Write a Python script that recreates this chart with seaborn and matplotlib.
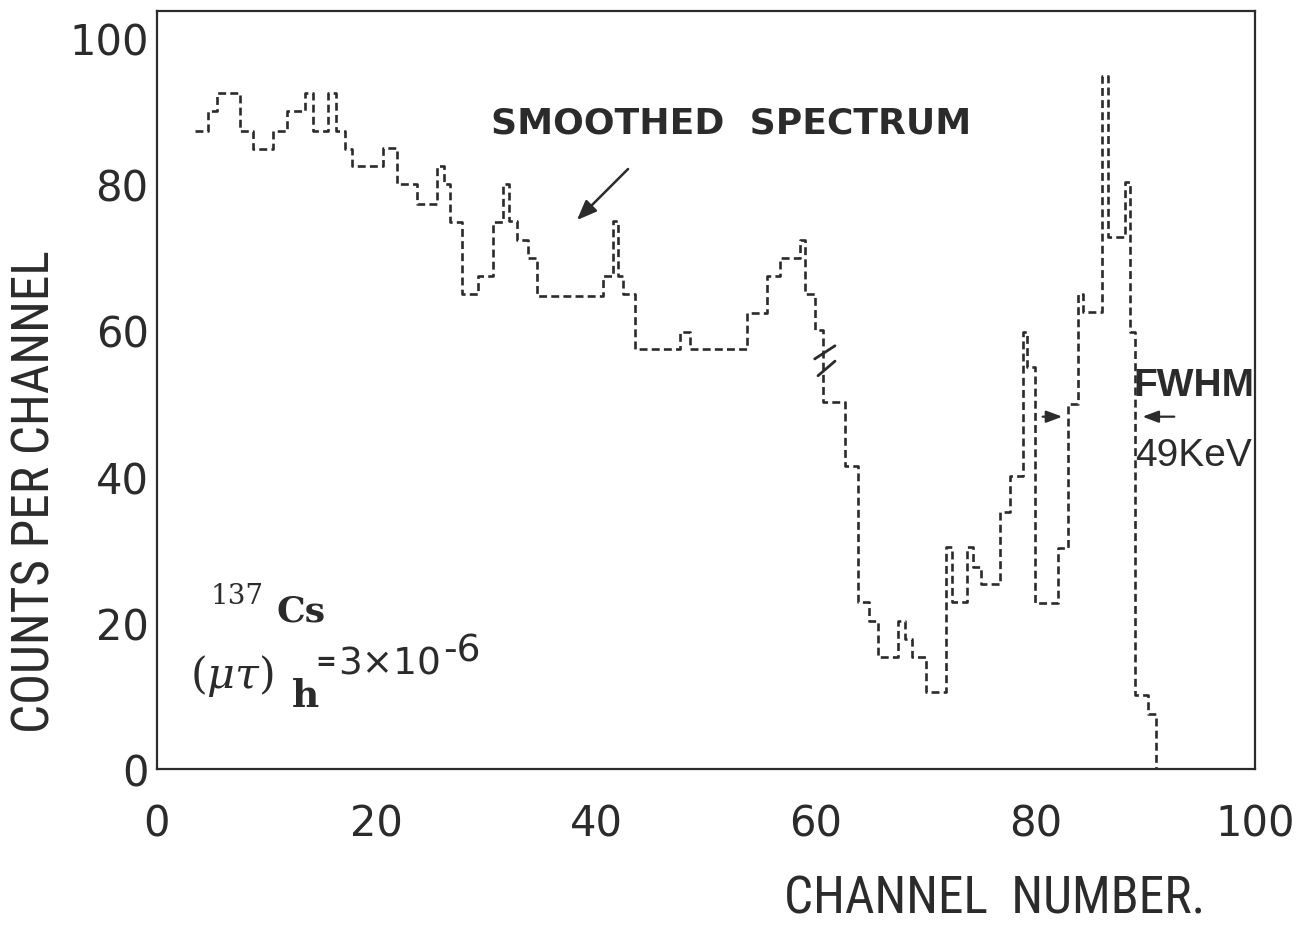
import matplotlib
matplotlib.use("Agg")
import matplotlib.pyplot as plt
from matplotlib import font_manager
import seaborn as sns
import pandas as pd

# ---- data (channel boundaries and counts) ----
channel_edges = [3.5, 4.6, 5.5, 7.6, 8.7, 10.6, 11.8, 13.5, 14.2, 15.6, 16.3, 17.1, 17.8,
                 20.6, 21.9, 23.7, 25.5, 26.1, 26.7, 27.8, 29.2, 30.6, 31.5, 32.1, 32.8,
                 33.8, 34.6, 40.6, 41.5, 42.0, 42.4, 43.5, 47.6, 48.5, 53.7, 55.6, 56.7,
                 58.6, 59.0, 59.9, 60.7, 62.7, 63.8, 64.8, 65.7, 67.5, 68.1, 68.8, 70.0,
                 71.9, 72.4, 73.8, 74.3, 75.0, 76.8, 77.7, 78.9, 79.2, 80.0, 82.1, 83.0,
                 83.9, 84.3, 86.1, 86.6, 88.2, 88.6, 89.1, 90.3, 91.0]
counts = [87.3, 90, 92.5, 87.3, 84.8, 87.3, 90, 92.5, 87.3, 92.5, 87.3, 84.8, 82.5,
          85, 80, 77.3, 82.5, 80, 74.8, 65, 67.4, 74.8, 80, 75, 72.4,
          69.9, 64.7, 67.5, 75, 67.5, 65, 57.4, 59.8, 57.4, 62.4, 67.4, 69.9,
          72.4, 65, 60, 50.2, 41.5, 22.8, 20.3, 15.3, 20.3, 17.8, 15.3, 10.5,
          30.4, 22.8, 30.4, 27.6, 25.3, 35.1, 40.1, 59.8, 55, 22.7, 30.2, 50,
          65, 62.5, 94.8, 72.8, 80.3, 59.8, 10.1, 7.5, 0]

x_ticks = [0, 20, 40, 60, 80, 100]
y_ticks = [0, 20, 40, 60, 80, 100]
x_label = "CHANNEL  NUMBER."
y_label = "COUNTS PER CHANNEL"
annotation_label = "SMOOTHED  SPECTRUM"

df = pd.DataFrame({"channel": channel_edges, "counts": counts})

sns.set_theme(style="white")
names = {f.name for f in font_manager.fontManager.ttflist}
narrow = None
for cand in ["Liberation Sans Narrow", "Roboto Condensed", "Open Sans Condensed",
             "Noto Sans Condensed", "DejaVu Sans Condensed"]:
    if cand in names:
        narrow = cand
        break
if narrow is None:
    narrow, ylab_size, xlab_size = "Liberation Sans", 35, 34.5
else:
    ylab_size, xlab_size = 37, 37
plt.rcParams["font.family"] = ["DejaVu Sans"]

INK = "#2b2b2b"
W, H = 1300, 928

def fx(px):
    return px / W

def fy(py):
    return 1 - py / H

fig = plt.figure(figsize=(13, 9.28), dpi=100)
ax = fig.add_axes([fx(157), fy(770), (1255 - 157) / W, (770 - 12) / H])

sns.lineplot(data=df, x="channel", y="counts", ax=ax, drawstyle="steps-post",
             color=INK, linewidth=1.9, linestyle=(0, (3.0, 1.6)), sort=True,
             estimator=None)

ax.set_xlim(0, 100)
ax.set_ylim(0, 103.7)
ax.set_xticks(x_ticks)
ax.set_yticks(y_ticks)
ax.set_xticklabels([str(t) for t in x_ticks], fontsize=30, color=INK)
ax.set_yticklabels([str(t) for t in y_ticks], fontsize=30, color=INK)
ax.tick_params(axis="x", direction="in", length=9, width=1.4, color=INK, pad=24)
ax.tick_params(axis="y", direction="in", length=9, width=1.4, color=INK, pad=6)
ax.set_xlabel("")
ax.set_ylabel("")
for s in ax.spines.values():
    s.set_linewidth(1.6)
    s.set_color(INK)

# axis titles
fig.text(fx(995), fy(900), x_label, fontsize=xlab_size, family=[narrow, "DejaVu Sans"],
         color=INK, ha="center", va="center")
fig.text(fx(36), fy(492), y_label, fontsize=ylab_size, family=[narrow, "DejaVu Sans"],
         color=INK, ha="center", va="center", rotation=90)

# smoothed spectrum annotation
ax.text((731 - 157) / 10.98, (770 - 123) / 7.31, annotation_label, fontsize=26,
        fontweight="bold", color=INK, ha="center", va="center")
ax.annotate("", xy=((575 - 157) / 10.98, (770 - 223) / 7.31),
            xytext=((630 - 157) / 10.98, (770 - 168) / 7.31),
            arrowprops=dict(arrowstyle="-|>,head_length=1.0,head_width=0.4",
                            color=INK, lw=1.8))

# break marks on the falling edge
ax.plot([59.9, 61.75], [56.1, 57.9], color=INK, lw=2)
ax.plot([60.2, 61.75], [53.8, 55.8], color=INK, lw=2)

# FWHM markers
ax.annotate("", xy=(82.7, 48.2), xytext=(80.4, 48.2),
            arrowprops=dict(arrowstyle="-|>,head_length=0.8,head_width=0.3", color=INK, lw=1.6))
ax.annotate("", xy=(89.5, 48.2), xytext=(92.9, 48.2),
            arrowprops=dict(arrowstyle="-|>,head_length=0.8,head_width=0.3", color=INK, lw=1.6))
fig.text(fx(1133), fy(386), "FWHM", fontsize=28, fontweight="bold",
         family=["Liberation Sans", "DejaVu Sans"], color=INK, ha="left", va="center")
fig.text(fx(1135), fy(456), "49KeV", fontsize=28,
         family=["Liberation Sans", "DejaVu Sans"], color=INK, ha="left", va="center")

# isotope and mobility-lifetime label
fig.text(fx(211), fy(583), "137", fontsize=20, family="DejaVu Serif", color=INK,
         ha="left", va="top")
fig.text(fx(276), fy(622), "Cs", fontsize=26, family="DejaVu Serif", fontweight="bold",
         color=INK, ha="left", va="baseline")
fig.text(fx(190), fy(688), r"$(\mu\tau)$", fontsize=31, color=INK, ha="left",
         va="baseline", math_fontfamily="dejavuserif")
fig.text(fx(292), fy(707), "h", fontsize=27, family="DejaVu Serif", fontweight="bold",
         color=INK, ha="left", va="baseline")
fig.text(fx(326), fy(663), "=", fontsize=18, fontweight="bold", color=INK,
         ha="center", va="center")
fig.text(fx(338), fy(675), "3\u00d710", fontsize=27, color=INK, ha="left", va="baseline")
fig.text(fx(443), fy(662), "-6", fontsize=27, color=INK, ha="left", va="baseline")

fig.savefig("out.png", dpi=100, facecolor="white")
